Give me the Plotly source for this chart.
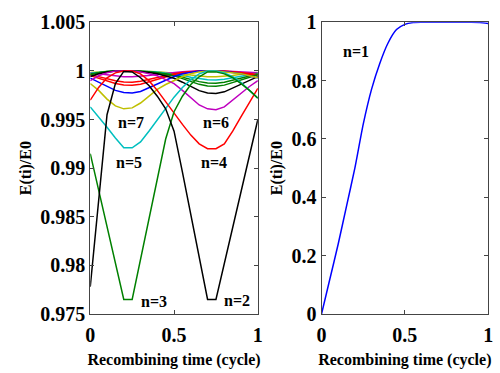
import plotly.graph_objects as go

# recombining time grid (cycle)
x_grid = [0.0, 0.05, 0.1, 0.15, 0.2, 0.25, 0.3, 0.35, 0.4, 0.45, 0.5,
          0.55, 0.6, 0.65, 0.7, 0.75, 0.8, 0.85, 0.9, 0.95, 1.0]

# left panel, E(ti)/E0 for return n
n2 = [0.9778, 0.9868, 0.9955, 0.9987, 0.99995, 0.9999, 0.9993, 0.9985, 0.9974, 0.9961, 0.9938,
      0.9896, 0.9852, 0.9808, 0.9765, 0.9765, 0.9802, 0.9839, 0.9876, 0.9913, 0.9950]
n3 = [0.9915, 0.9878, 0.9840, 0.9802, 0.9765, 0.9765, 0.9806, 0.9846, 0.9888, 0.9930, 0.9958,
      0.9974, 0.9986, 0.9994, 0.9999, 0.9999, 0.9997, 0.9993, 0.9987, 0.9980, 0.9972]
n4 = [0.9970, 0.9983, 0.9993, 0.9998, 1.0, 1.0, 0.9997, 0.9990, 0.9980, 0.9968, 0.9957,
      0.9945, 0.9934, 0.9925, 0.9920, 0.9920, 0.9925, 0.9938, 0.9953, 0.9968, 0.9982]
n5 = [0.9963, 0.9953, 0.9942, 0.9931, 0.9921, 0.9921, 0.9927, 0.9938, 0.9950, 0.9962, 0.9973,
      0.9983, 0.9991, 0.9997, 1.0, 1.0, 0.9998, 0.9994, 0.9988, 0.9980, 0.9972]
n6 = [0.9990, 0.9995, 0.9998, 1.0, 1.0, 1.0, 0.9999, 0.9997, 0.9995, 0.9991, 0.9987,
      0.9980, 0.9972, 0.9965, 0.9961, 0.9960, 0.9963, 0.9970, 0.9977, 0.9984, 0.9990]
n7 = [0.9987, 0.9980, 0.9971, 0.9964, 0.9961, 0.9962, 0.9967, 0.9974, 0.9981, 0.9986, 0.9990,
      0.9994, 0.9997, 0.9999, 1.0, 1.0, 0.9999, 0.9998, 0.9997, 0.9995, 0.9993]
n8 = [0.99942, 0.99971, 0.99988, 1.0, 1.0, 1.0, 0.99994, 0.99983, 0.99971, 0.99948, 0.99925,
      0.99884, 0.99838, 0.99797, 0.99774, 0.99768, 0.99785, 0.99826, 0.99867, 0.99907, 0.99942]
n9 = [0.99926, 0.99886, 0.99840, 0.99800, 0.99778, 0.99772, 0.99789, 0.99829, 0.99869, 0.99909, 0.99943,
      0.99971, 0.99989, 1.0, 1.0, 1.0, 0.99994, 0.99983, 0.99971, 0.99949, 0.99926]
n10 = [0.99960, 0.99980, 0.99992, 1.0, 1.0, 1.0, 0.99996, 0.99988, 0.99980, 0.99964, 0.99949,
       0.99921, 0.99889, 0.99862, 0.99846, 0.99842, 0.99854, 0.99882, 0.99909, 0.99937, 0.99960]
n11 = [0.99952, 0.99926, 0.99896, 0.99870, 0.99856, 0.99852, 0.99863, 0.99889, 0.99915, 0.99941, 0.99963,
       0.99981, 0.99993, 1.0, 1.0, 1.0, 0.99996, 0.99989, 0.99981, 0.99967, 0.99952]
n12 = [0.99968, 0.99984, 0.99994, 1.0, 1.0, 1.0, 0.99997, 0.99991, 0.99984, 0.99972, 0.99959,
       0.99937, 0.99912, 0.99890, 0.99877, 0.99874, 0.99883, 0.99906, 0.99928, 0.99950, 0.99968]
n13 = [0.99962, 0.99942, 0.99919, 0.99898, 0.99887, 0.99884, 0.99893, 0.99913, 0.99933, 0.99954, 0.99971,
       0.99985, 0.99994, 1.0, 1.0, 1.0, 0.99997, 0.99991, 0.99985, 0.99974, 0.99962]
n14 = [0.99977, 0.99988, 0.99995, 1.0, 1.0, 1.0, 0.99998, 0.99993, 0.99988, 0.99979, 0.99970,
       0.99954, 0.99935, 0.99919, 0.99909, 0.99907, 0.99914, 0.99930, 0.99947, 0.99963, 0.99977]
n15 = [0.99980, 0.99970, 0.99957, 0.99947, 0.99941, 0.99939, 0.99944, 0.99954, 0.99965, 0.99976, 0.99985,
       0.99992, 0.99997, 1.0, 1.0, 1.0, 0.99998, 0.99995, 0.99992, 0.99986, 0.99980]
n16 = [0.99985, 0.99992, 0.99997, 1.0, 1.0, 1.0, 0.99998, 0.99995, 0.99992, 0.99986, 0.99980,
       0.99969, 0.99957, 0.99947, 0.99941, 0.99939, 0.99944, 0.99954, 0.99965, 0.99976, 0.99985]

# right panel, first return
n1 = [0.0, 0.12, 0.24, 0.37, 0.50, 0.65, 0.77, 0.86, 0.93, 0.975, 0.993,
      0.999, 1.0, 1.0, 1.0, 1.0, 1.0, 1.0, 1.0, 0.999, 0.996]

left_series = [
    ("n=16", n16, "#bfbf00"), ("n=15", n15, "#bf00bf"), ("n=14", n14, "#00bfbf"),
    ("n=13", n13, "#ff0000"), ("n=12", n12, "#008000"), ("n=11", n11, "#ff0000"),
    ("n=10", n10, "#008000"), ("n=9", n9, "#0000ff"), ("n=8", n8, "#000000"),
    ("n=7", n7, "#bfbf00"), ("n=6", n6, "#bf00bf"), ("n=5", n5, "#00bfbf"),
    ("n=4", n4, "#ff0000"), ("n=3", n3, "#008000"), ("n=2", n2, "#000000"),
]

left_y_ticks = [0.975, 0.98, 0.985, 0.99, 0.995, 1.0, 1.005]
left_y_text = ["0.975", "0.98", "0.985", "0.99", "0.995", "1", "1.005"]
right_y_ticks = [0, 0.2, 0.4, 0.6, 0.8, 1.0]
right_y_text = ["0", "0.2", "0.4", "0.6", "0.8", "1"]
x_ticks = [0, 0.5, 1]
x_text = ["0", "0.5", "1"]

# label positions (data coords)
labels_left = [("n=7", 0.242, 0.99471), ("n=5", 0.233, 0.99061), ("n=6", 0.751, 0.99471),
               ("n=4", 0.741, 0.99061), ("n=3", 0.379, 0.97632), ("n=2", 0.878, 0.97642)]
labels_right = [("n=1", 0.208, 0.899)]

FONT = "Times New Roman, Liberation Serif, serif"

fig = go.Figure()
for name, ys, col in left_series:
    fig.add_trace(go.Scatter(x=x_grid, y=ys, mode="lines", name=name,
                             line=dict(color=col, width=1.5), xaxis="x", yaxis="y",
                             showlegend=False))
fig.add_trace(go.Scatter(x=x_grid, y=n1, mode="lines", name="n=1",
                         line=dict(color="#0000ff", width=1.5, shape="spline", smoothing=0.6),
                         xaxis="x2", yaxis="y2", showlegend=False))

axis_common = dict(showline=True, linecolor="#444444", linewidth=1, mirror="ticks",
                   ticks="inside", ticklen=4, tickcolor="#444444", showgrid=False,
                   zeroline=False, tickfont=dict(family=FONT, size=20, color="black",
                                                 weight="bold"))
title_font = dict(family=FONT, size=16, color="black", weight="bold")

fig.update_layout(
    width=500, height=373, margin=dict(l=0, r=0, t=0, b=0),
    paper_bgcolor="white", plot_bgcolor="white",
    xaxis=dict(domain=[0.174, 0.516], range=[0, 1], tickvals=x_ticks, ticktext=x_text,
               ticklabelstandoff=3,
               title=dict(text="Recombining time (cycle)", font=title_font, standoff=8),
               anchor="y", **axis_common),
    yaxis=dict(domain=[0.1367, 0.9678], range=[0.975, 1.005], tickvals=left_y_ticks,
               ticktext=left_y_text, title=dict(text="E(ti)/E0", font=title_font, standoff=4),
               anchor="x", **axis_common),
    xaxis2=dict(domain=[0.646, 0.986], range=[0, 1], tickvals=x_ticks, ticktext=x_text,
                ticklabelstandoff=3,
                title=dict(text="Recombining time (cycle)", font=title_font, standoff=8),
                anchor="y2", **axis_common),
    yaxis2=dict(domain=[0.1367, 0.9678], range=[0, 1], tickvals=right_y_ticks,
                ticktext=right_y_text, title=dict(text="E(ti)/E0", font=title_font, standoff=4),
                anchor="x2", **axis_common),
)

for t, xv, yv in labels_left:
    fig.add_annotation(x=xv, y=yv, xref="x", yref="y", text=t, showarrow=False,
                       font=dict(family=FONT, size=16, color="black", weight="bold"))
for t, xv, yv in labels_right:
    fig.add_annotation(x=xv, y=yv, xref="x2", yref="y2", text=t, showarrow=False,
                       font=dict(family=FONT, size=16, color="black", weight="bold"))

fig.write_html("out.html", config={"displayModeBar": False},
               post_script="document.body.style.margin='0';")
